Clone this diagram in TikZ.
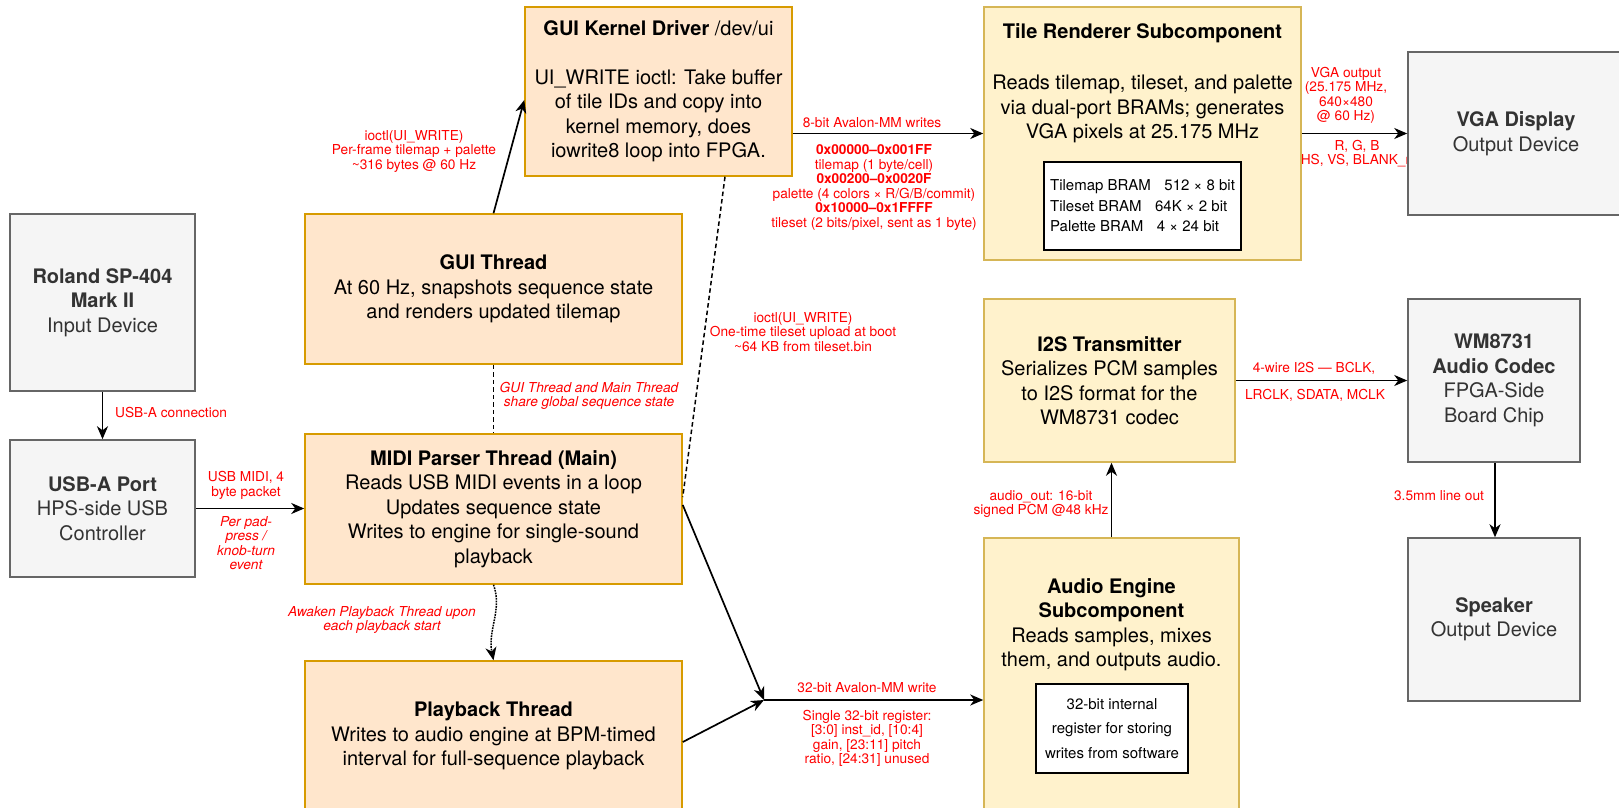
\documentclass[tikz,border=0pt]{standalone}
\usepackage{fontspec}
\setmainfont{TeX Gyre Heros}
\usetikzlibrary{arrows.meta}
\definecolor{gfill}{HTML}{F5F5F5}
\definecolor{gline}{HTML}{666666}
\definecolor{gtext}{HTML}{333333}
\definecolor{ofill}{HTML}{FFE6CC}
\definecolor{oline}{HTML}{D79B00}
\definecolor{yfill}{HTML}{FFF2CC}
\definecolor{yline}{HTML}{D6B656}
\definecolor{lred}{HTML}{FF0000}
\newcommand{\dgbody}{\fontsize{20}{24.5}\selectfont}
\newcommand{\dglab}{\fontsize{13.7}{14.5}\selectfont}
\newcommand{\dgin}{\fontsize{15}{20.5}\selectfont}
\newcommand{\dginb}{\fontsize{15}{24.5}\selectfont}
\begin{document}
\begin{tikzpicture}[x=1pt,y=-1pt,
  box/.style={draw, line width=1.5pt, inner sep=0pt, align=center, font=\dgbody},
  gbox/.style={box, draw=gline, fill=gfill, text=gtext},
  obox/.style={box, draw=oline, fill=ofill},
  ybox/.style={box, draw=yline, fill=yfill},
  membox/.style={draw, line width=1.3pt, fill=white, inner sep=0pt},
  txt/.style={font=\dgbody, align=center, inner sep=0pt},
  lbl/.style={text=lred, font=\dglab, align=center, inner sep=0pt},
  ilbl/.style={lbl, font=\dglab\itshape},
  arr/.style={-{Stealth[length=13pt,width=11pt,inset=4pt]}, line width=1.7pt},
  dline/.style={dash pattern=on 4.5pt off 3pt, line width=1.5pt},
]
\clip (0,0) rectangle (1619,808);
\fill[white] (0,0) rectangle (1619,808);

% labels that lie under the VGA box
\node[lbl] (vgalabA) at (1346,95.5) {VGA output\\(25.175 MHz,\\640×480\\@ 60 Hz)};
\node[lbl] (vgalabB) at (1357,153.5) {R, G, B\\HS, VS, BLANK\_n};

% boxes
\node[gbox, minimum width=185pt, minimum height=177pt] (roland) at (102.5,302.5)
  {\textbf{Roland SP-404}\\\textbf{Mark II}\\Input Device};
\node[gbox, minimum width=185pt, minimum height=137pt] (usb) at (102.5,508.5)
  {\textbf{USB-A Port}\\HPS-side USB\\Controller};
\node[obox, minimum width=267pt, minimum height=169pt] (kernel) at (658.5,91.5)
  {\textbf{GUI Kernel Driver} /dev/ui\\[24pt]UI\_WRITE ioctl: Take buffer\\of tile IDs and copy into\\kernel memory, does\\iowrite8 loop into FPGA.};
\node[obox, minimum width=377pt, minimum height=150pt] (gui) at (493.5,289)
  {\textbf{GUI Thread}\\At 60 Hz, snapshots sequence state\\and renders updated tilemap};
\node[obox, minimum width=377pt, minimum height=150pt] (midi) at (493.5,509)
  {\textbf{MIDI Parser Thread (Main)}\\Reads USB MIDI events in a loop\\Updates sequence state\\Writes to engine for single-sound\\playback};
\node[obox, minimum width=377pt, minimum height=150pt] (play) at (493.5,736)
  {\textbf{Playback Thread}\\Writes to audio engine at BPM-timed\\interval for full-sequence playback};
\node[ybox, minimum width=317pt, minimum height=253pt] (tile) at (1142.5,133.5) {};
\node[txt] (tiletext) at (1142.5,83)
  {\textbf{Tile Renderer Subcomponent}\\[27pt]Reads tilemap, tileset, and palette\\via dual-port BRAMs; generates\\VGA pixels at 25.175 MHz};
\node[membox, minimum width=197pt, minimum height=88pt, font=\dgin, align=left] (tilemem) at (1142.5,206)
  {Tilemap BRAM\hspace{0.9em}512 × 8 bit\\Tileset BRAM\hspace{0.9em}64K × 2 bit\\Palette BRAM\hspace{0.9em}4 × 24 bit};
\node[gbox, minimum width=216pt, minimum height=163pt] (vga) at (1516,133.5)
  {\textbf{VGA Display}\\Output Device};
\node[ybox, minimum width=251pt, minimum height=163pt] (i2s) at (1109.5,380.5)
  {\textbf{I2S Transmitter}\\Serializes PCM samples\\to I2S format for the\\WM8731 codec};
\node[gbox, minimum width=172pt, minimum height=163pt] (wm) at (1494,380.5)
  {\textbf{WM8731}\\\textbf{Audio Codec}\\FPGA-Side\\Board Chip};
\node[gbox, minimum width=172pt, minimum height=163pt] (speaker) at (1494,619.5)
  {\textbf{Speaker}\\Output Device};
\node[ybox, minimum width=255pt, minimum height=282pt] (ae) at (1111.5,679) {};
\node[txt] (aetext) at (1111.5,624.5)
  {\textbf{Audio Engine}\\\textbf{Subcomponent}\\Reads samples, mixes\\them, and outputs audio.};
\node[membox, minimum width=152pt, minimum height=89pt, font=\dginb, align=center] (aereg) at (1112,728.5)
  {32-bit internal\\register for storing\\writes from software};

% connectors
\draw[arr] (roland.south) -- (usb.north);
\node[lbl, anchor=west] (lab1) at (115,413) {USB-A connection};

\draw[arr] (usb.east) -- (usb.east -| midi.west);
\node[lbl] (lab2) at (246,485.5) {USB MIDI, 4\\byte packet};
\node[ilbl] (lab3) at (246,543) {Per pad-\\press /\\knob-turn\\event};

\draw[arr] (gui.north) -- ([yshift=-8.5pt]kernel.west);
\node[lbl] (lab4) at (414,151) {ioctl(UI\_WRITE)\\Per-frame tilemap + palette\\\textasciitilde316 bytes @ 60 Hz};

\draw[dline] (gui.south) -- (midi.north);
\node[ilbl] (lab5) at (589,396) {GUI Thread and Main Thread\\share global sequence state};

\draw[dline] ([xshift=66.5pt]kernel.south) -- ([yshift=12pt]midi.east);
\node[lbl] (lab6) at (803,332) {ioctl(UI\_WRITE)\\One-time tileset upload at boot\\\textasciitilde64 KB from tileset.bin};

\draw[arr] (kernel.east |- tile.west) -- (tile.west);
\node[lbl] (lab7) at (872,123) {8-bit Avalon-MM writes};
\node[lbl] (lab8) at (874,187.5) {\textbf{0x00000–0x001FF}\\tilemap (1 byte/cell)\\\textbf{0x00200–0x0020F}\\palette (4 colors × R/G/B/commit)\\\textbf{0x10000–0x1FFFF}\\tileset (2 bits/pixel, sent as 1 byte)};

\draw[arr] (tile.east) -- (vga.west);

\draw[arr] (i2s.east) -- (wm.west);
\node[lbl] (lab9) at (1314,368) {4-wire I2S — BCLK,};
\node[lbl] (lab10) at (1315,395) {LRCLK, SDATA, MCLK};

\draw[arr] ([xshift=1pt]wm.south) -- ([xshift=1pt]speaker.north);
\node[lbl] (lab11) at (1439,496) {3.5mm line out};

\draw[arr] (ae.north) -- (ae.north |- i2s.south);
\node[lbl] (lab12) at (1041,504) {audio\_out: 16-bit\\signed PCM @48 kHz};

\coordinate (junc) at (764,700);
\draw[arr] ([yshift=4pt]midi.east) -- (junc);
\draw[arr] ([yshift=-6pt]play.east) -- (junc);
\draw[arr] (junc) -- (junc -| ae.west);
\node[lbl] (lab13) at (867,688) {32-bit Avalon-MM write};
\node[lbl] (lab14) at (867,738.5) {Single 32-bit register:\\{}[3:0] inst\_id, [10:4]\\gain, [23:11] pitch\\ratio, [24:31] unused};

\draw[arr, densely dotted, line width=1.5pt] (midi.south) .. controls +(9,25) and +(-6,-30) .. (play.north);
\node[ilbl] (lab15) at (382,620) {Awaken Playback Thread upon\\each playback start};
\end{tikzpicture}
\end{document}
